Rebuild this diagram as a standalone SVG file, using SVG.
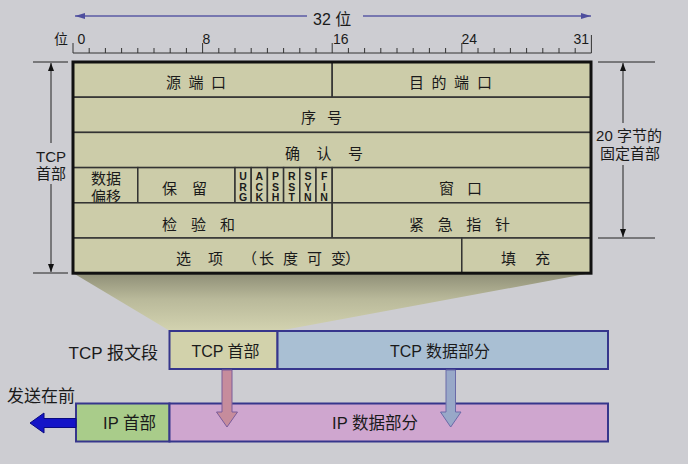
<svg xmlns="http://www.w3.org/2000/svg" width="688" height="464" viewBox="0 0 688 464">
<style>
.t{font-family:"Liberation Sans","Noto Sans CJK SC",sans-serif;fill:#1a1a1a}
.c{font-family:"Noto Sans CJK SC","Liberation Sans",sans-serif;font-size:15px;fill:#1a1a1a}
.fl{font-family:"Liberation Sans",sans-serif;font-size:10.5px;font-weight:bold;fill:#1a1a1a;text-anchor:middle}
.cell{fill:#cccca9;stroke:#333;stroke-width:1.5}
.box{stroke:#36368c;stroke-width:2}
.tick{stroke:#333;stroke-width:1}
.dim{stroke:#222;stroke-width:1}
</style>
<defs>
<linearGradient id="fun" gradientUnits="userSpaceOnUse" x1="0" y1="273" x2="0" y2="331">
<stop offset="0" stop-color="#8e8e76"/>
<stop offset="0.45" stop-color="#b9b99a"/>
<stop offset="1" stop-color="#d3d3b0"/>
</linearGradient>
<marker id="ab" markerWidth="8" markerHeight="8" refX="8" refY="4" orient="auto" markerUnits="userSpaceOnUse"><polygon points="0,1 8,4 0,7" fill="#111"/></marker>
<marker id="ap" markerWidth="10" markerHeight="8" refX="10" refY="4" orient="auto" markerUnits="userSpaceOnUse"><polygon points="0,1 10,4 0,7" fill="#4e4e9e"/></marker>
</defs>
<rect width="688" height="464" fill="#cdcdd2"/>

<g id="ruler">
<line x1="307" y1="16" x2="75" y2="16" stroke="#5a5aa4" stroke-width="1.5" marker-end="url(#ap)"/>
<line x1="363" y1="16" x2="591" y2="16" stroke="#5a5aa4" stroke-width="1.5" marker-end="url(#ap)"/>
<text class="t" x="313" y="25" font-size="16">32 位</text>
<text class="t" x="54" y="44" font-size="14">位</text>
<text class="t" x="77.5" y="43.5" font-size="14">0</text>
<text class="t" x="202.5" y="43.5" font-size="14">8</text>
<text class="t" x="333" y="43.5" font-size="14">16</text>
<text class="t" x="461.5" y="43.5" font-size="14">24</text>
<text class="t" x="589" y="43.5" font-size="14" text-anchor="end">31</text>
<line class="tick" x1="73" y1="53" x2="591.4" y2="53"/>
<path class="tick" fill="none" d="M73,43V53 M89.2,48V53 M105.4,48V53 M121.6,48V53 M137.8,48V53 M154,48V53 M170.2,48V53 M186.4,48V53 M202.6,43V53 M218.8,48V53 M235,48V53 M251.2,48V53 M267.4,48V53 M283.6,48V53 M299.8,48V53 M316,48V53 M332.2,43V53 M348.4,48V53 M364.6,48V53 M380.8,48V53 M397,48V53 M413.2,48V53 M429.4,48V53 M445.6,48V53 M461.8,43V53 M478,48V53 M494.2,48V53 M510.4,48V53 M526.6,48V53 M542.8,48V53 M559,48V53 M575.2,48V53 M591.4,35V53"/>
</g>

<g id="funnel">
<polygon points="73,273 591,273 278,331 170,331" fill="url(#fun)"/>
</g>

<g id="tcp-header-table">
<g id="src-port"><rect class="cell" x="73" y="62" width="259.2" height="35.2"/><text class="c" x="166 188.5 211" y="88">源端口</text></g>
<g id="dst-port"><rect class="cell" x="332.2" y="62" width="258.8" height="35.2"/><text class="c" x="409 431.5 454 477" y="88">目的端口</text></g>
<g id="seq"><rect class="cell" x="73" y="97.2" width="518" height="35.2"/><text class="c" x="301 327" y="123.4">序号</text></g>
<g id="ack"><rect class="cell" x="73" y="132.4" width="518" height="35.2"/><text class="c" x="285 316.5 348" y="158.6">确认号</text></g>
<g id="data-offset"><rect class="cell" x="73" y="167.6" width="64.8" height="35.2"/><text class="t" font-size="15" text-anchor="middle"><tspan x="106" y="183.5">数据</tspan><tspan x="106" y="201.5">偏移</tspan></text></g>
<g id="reserved"><rect class="cell" x="137.8" y="167.6" width="97.2" height="35.2"/><text class="c" x="162 192" y="194">保留</text></g>
<g id="flags">
<rect class="cell" x="235" y="167.6" width="16.2" height="35.2"/>
<rect class="cell" x="251.2" y="167.6" width="16.2" height="35.2"/>
<rect class="cell" x="267.4" y="167.6" width="16.2" height="35.2"/>
<rect class="cell" x="283.6" y="167.6" width="16.2" height="35.2"/>
<rect class="cell" x="299.8" y="167.6" width="16.2" height="35.2"/>
<rect class="cell" x="316" y="167.6" width="16.2" height="35.2"/>
<text class="fl" x="243.1" y="180">U</text><text class="fl" x="243.1" y="190.5">R</text><text class="fl" x="243.1" y="201">G</text>
<text class="fl" x="259.3" y="180">A</text><text class="fl" x="259.3" y="190.5">C</text><text class="fl" x="259.3" y="201">K</text>
<text class="fl" x="275.5" y="180">P</text><text class="fl" x="275.5" y="190.5">S</text><text class="fl" x="275.5" y="201">H</text>
<text class="fl" x="291.7" y="180">R</text><text class="fl" x="291.7" y="190.5">S</text><text class="fl" x="291.7" y="201">T</text>
<text class="fl" x="307.9" y="180">S</text><text class="fl" x="307.9" y="190.5">Y</text><text class="fl" x="307.9" y="201">N</text>
<text class="fl" x="324.1" y="180">F</text><text class="fl" x="324.1" y="190.5">I</text><text class="fl" x="324.1" y="201">N</text>
</g>
<g id="window"><rect class="cell" x="332.2" y="167.6" width="258.8" height="35.2"/><text class="c" x="439 467" y="194">窗口</text></g>
<g id="checksum"><rect class="cell" x="73" y="202.8" width="259.2" height="35.2"/><text class="c" x="162 191 220" y="229.5">检验和</text></g>
<g id="urgent"><rect class="cell" x="332.2" y="202.8" width="258.8" height="35.2"/><text class="c" x="409 437.7 466.3 495" y="229.5">紧急指针</text></g>
<g id="options"><rect class="cell" x="73" y="238" width="388.8" height="35.2"/><text class="c" x="176 208 242 259 283 307 331 345" y="263.5">选项（长度可变）</text></g>
<g id="padding"><rect class="cell" x="461.8" y="238" width="129.2" height="35.2"/><text class="c" x="501 535" y="263.5">填充</text></g>
<rect x="73" y="62" width="518" height="211.2" fill="none" stroke="#111" stroke-width="3"/>
</g>

<g id="left-dim">
<line class="dim" x1="33" y1="62" x2="68" y2="62"/>
<line class="dim" x1="33" y1="273" x2="68" y2="273"/>
<text class="t" font-size="15" text-anchor="middle"><tspan x="51" y="161.5">TCP</tspan><tspan x="51" y="178.5">首部</tspan></text>
</g>
<g id="right-dim">
<line class="dim" x1="598" y1="62" x2="655" y2="62"/>
<line class="dim" x1="598" y1="238" x2="655" y2="238"/>
<text class="t" font-size="15" text-anchor="middle"><tspan x="629" y="140.5">20 字节的</tspan><tspan x="630" y="158.5">固定首部</tspan></text>
</g>

<g id="tcp-segment">
<text class="t" x="158" y="359" font-size="17" text-anchor="end">TCP 报文段</text>
<g id="tcp-hdr-box"><rect class="box" x="169.5" y="331" width="108" height="38" fill="#d2d2ab"/><text class="t" x="225.5" y="357" font-size="16" text-anchor="middle">TCP 首部</text></g>
<g id="tcp-data-box"><rect class="box" x="277.5" y="331" width="330.5" height="38" fill="#a9bfd3"/><text class="t" x="440" y="357" font-size="16" text-anchor="middle">TCP 数据部分</text></g>
</g>

<g id="ip-datagram">
<text class="t" x="7" y="402" font-size="17">发送在前</text>
<g id="ip-hdr-box"><rect class="box" x="76" y="403.5" width="93.5" height="38" fill="#a9cc8a"/><text class="t" x="129.5" y="428.5" font-size="16.5" text-anchor="middle">IP 首部</text></g>
<g id="ip-data-box"><rect class="box" x="169.5" y="403.5" width="438.5" height="38" fill="#cfa6cf"/><text class="t" x="375" y="428.5" font-size="16.5" text-anchor="middle">IP 数据部分</text></g>
</g>

<g id="connectors">
<line x1="51" y1="143" x2="51" y2="63" stroke="#222" stroke-width="1" marker-end="url(#ab)"/>
<line x1="51" y1="184" x2="51" y2="272" stroke="#222" stroke-width="1" marker-end="url(#ab)"/>
<line x1="623" y1="123" x2="623" y2="63" stroke="#222" stroke-width="1" marker-end="url(#ab)"/>
<line x1="623" y1="165" x2="623" y2="237" stroke="#222" stroke-width="1" marker-end="url(#ab)"/>
<polygon points="222,370 232,370 232,412 237.5,412 227,427 216.5,412 222,412" fill="#c68c9c" stroke="#7a5c9a" stroke-width="1"/>
<polygon points="446,370 455.5,370 455.5,412 461,412 450.7,427 440.5,412 446,412" fill="#98a8c8" stroke="#6a6aa8" stroke-width="1"/>
<polygon points="76,418.5 44,418.5 44,413 30,423 44,433 44,427.5 76,427.5" fill="#1414c8" stroke="#0a0a80" stroke-width="1"/>
</g>
</svg>
